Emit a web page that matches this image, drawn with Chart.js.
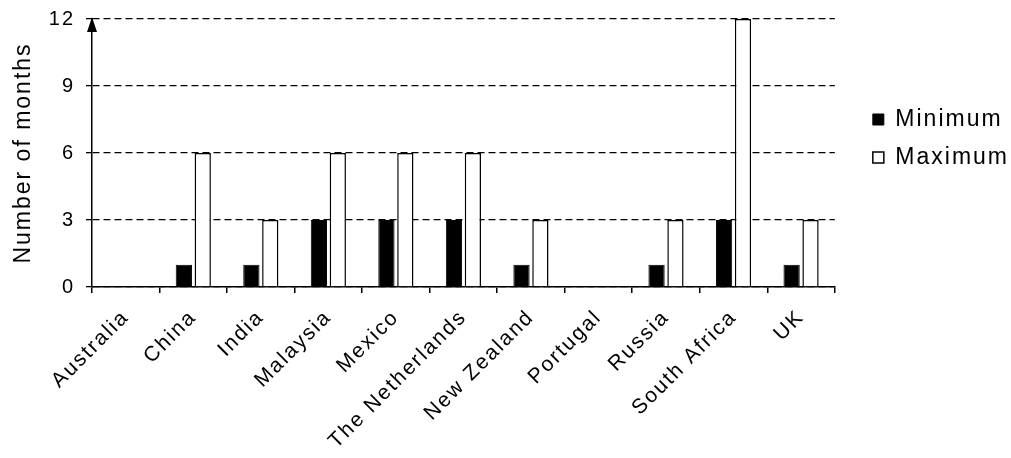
<!DOCTYPE html>
<html>
<head>
<meta charset="utf-8">
<script src="https://cdn.jsdelivr.net/npm/chart.js@4/dist/chart.umd.min.js"></script>
<style>
  html, body { margin: 0; padding: 0; background: #fff; }
  #wrap { width: 1011px; height: 458px; position: relative; }
</style>
</head>
<body>
<div id="wrap"><canvas id="monthsChart"></canvas></div>
<script>
// countries on the x axis
const countries = ['Australia', 'China', 'India', 'Malaysia', 'Mexico', 'The Netherlands',
  'New Zealand', 'Portugal', 'Russia', 'South Africa', 'UK'];
// number of months
const minimumMonths = [0, 1, 1, 3, 3, 3, 1, 0, 1, 3, 1];
const maximumMonths = [0, 6, 3, 6, 6, 6, 3, 0, 3, 12, 3];
const yTicks = [0, 3, 6, 9, 12];

const FONT = "'Liberation Sans', Arial, sans-serif";

// the original text is spaced out a bit
const spacingPlugin = {
  id: 'textSpacing',
  beforeUpdate(chart) { chart.ctx.letterSpacing = '2px'; },
  beforeDraw(chart) { chart.ctx.letterSpacing = '2px'; }
};

// legend sits a bit away from the plot and above centre
const legendPlace = {
  id: 'legendPlace',
  beforeDraw(chart) {
    const lg = chart.legend;
    const h = lg.bottom - lg.top;
    const w = lg.right - lg.left;
    lg.left = chart.chartArea.right + 23;
    lg.right = lg.left + w;
    lg.top = 93;
    lg.bottom = lg.top + h;
  }
};

// arrow head on top of the y axis
const arrowPlugin = {
  id: 'yArrow',
  afterDraw(chart) {
    const ctx = chart.ctx;
    const x = chart.chartArea.left;
    const top = chart.chartArea.top;
    ctx.save();
    ctx.fillStyle = '#000';
    ctx.beginPath();
    ctx.moveTo(x, top - 2);
    ctx.lineTo(x - 5, top + 13);
    ctx.lineTo(x + 5, top + 13);
    ctx.closePath();
    ctx.fill();
    ctx.restore();
  }
};

const ctx = document.getElementById('monthsChart');
new Chart(ctx, {
  type: 'bar',
  data: {
    labels: countries,
    datasets: [{
      label: 'Minimum',
      data: minimumMonths,
      backgroundColor: '#000',
      borderColor: '#000',
      borderWidth: 1
    }, {
      label: 'Maximum',
      data: maximumMonths,
      backgroundColor: '#fff',
      borderColor: '#000',
      borderWidth: 1.5
    }]
  },
  options: {
    responsive: true,
    maintainAspectRatio: false,
    animation: false,
    events: [],
    categoryPercentage: 0.56,
    barPercentage: 0.86,
    layout: { padding: { top: 19, right: 15 } },
    plugins: {
      tooltip: { enabled: false },
      legend: {
        position: 'right',
        align: 'start',
        labels: {
          color: '#000',
          font: { family: FONT, size: 23 },
          boxWidth: 11,
          boxHeight: 11,
          padding: 15,
          useBorderRadius: false
        }
      }
    },
    scales: {
      x: {
        offset: true,
        grid: {
          offset: true,
          drawOnChartArea: false,
          drawTicks: true,
          tickLength: 6,
          color: '#000',
          lineWidth: 1.5
        },
        border: { color: '#000', width: 1.5 },
        ticks: {
          color: '#000',
          font: { family: FONT, size: 21 },
          maxRotation: 45,
          minRotation: 45,
          autoSkip: false,
          padding: 12
        },
        afterFit(scale) { scale.height = 171; }
      },
      y: {
        min: 0,
        max: 12,
        afterBuildTicks(scale) { scale.ticks = yTicks.map(v => ({ value: v })); },
        grid: {
          color: '#000',
          lineWidth: 1.3,
          tickLength: 6,
          tickBorderDash: [],
          tickColor: '#000'
        },
        border: { color: '#000', width: 1.5, dash: [7, 4] },
        ticks: {
          color: '#000',
          font: { family: FONT, size: 20 },
          padding: 11
        },
        title: {
          display: true,
          text: 'Number of months',
          color: '#000',
          font: { family: FONT, size: 23 },
          padding: { top: 10, bottom: 0 }
        },
        afterFit(scale) {
          scale.width = 92;
          scale.paddingTop = 0;
          scale.paddingBottom = 0;
        }
      }
    }
  },
  plugins: [spacingPlugin, legendPlace, arrowPlugin]
});
</script>
</body>
</html>
